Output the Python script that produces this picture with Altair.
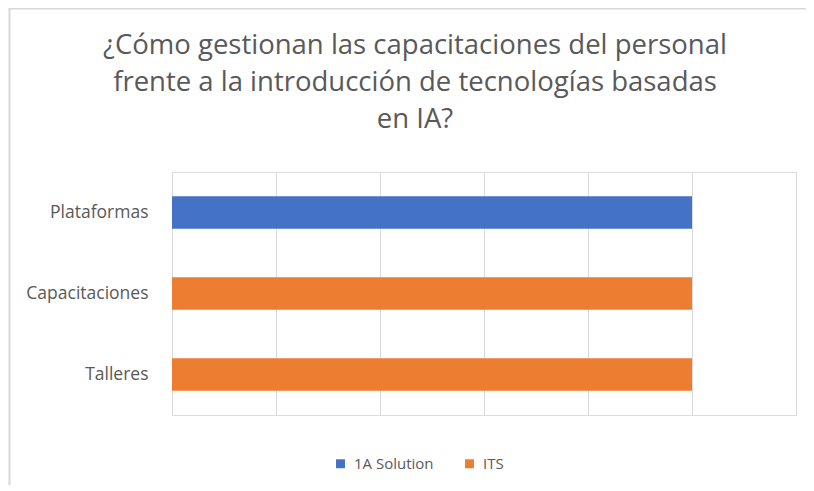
import altair as alt
import pandas as pd

categories = ["Plataformas", "Capacitaciones", "Talleres"]
series = ["1A Solution", "ITS", "ITS"]
values = [1, 1, 1]
series_order = ["1A Solution", "ITS"]
series_colors = ["#4472C4", "#ED7D31"]
title_lines = [
    "¿Cómo gestionan las capacitaciones del personal",
    "frente a la introducción de tecnologías basadas",
    "en IA?",
]

df = pd.DataFrame({"categoria": categories, "serie": series, "valor": values})

FONT = "Open Sans"

bars = (
    alt.Chart(df)
    .mark_bar()
    .encode(
        y=alt.Y(
            "categoria:N",
            sort=categories,
            title=None,
            scale=alt.Scale(paddingInner=0.6, paddingOuter=0.3),
            axis=alt.Axis(
                domain=False,
                ticks=False,
                labelPadding=24,
                labelFontSize=17.5,
                labelColor="#595959",
                labelFont=FONT,
                grid=False,
            ),
        ),
        x=alt.X(
            "valor:Q",
            title=None,
            scale=alt.Scale(domain=[0, 1.2], nice=False),
            axis=alt.Axis(
                values=[0, 0.2, 0.4, 0.6, 0.8, 1.0, 1.2],
                labels=False,
                domain=False,
                ticks=False,
                grid=True,
                gridColor="#d9d9d9",
                gridWidth=1,
            ),
        ),
        color=alt.Color(
            "serie:N",
            scale=alt.Scale(domain=series_order, range=series_colors),
            legend=alt.Legend(
                title=None,
                orient="none",
                direction="horizontal",
                legendX=161,
                legendY=284,
                symbolType="square",
                symbolSize=80,
                labelFontSize=15,
                labelColor="#595959",
                labelFont=FONT,
                columnPadding=28,
                labelOffset=6,
            ),
        ),
    )
)

border_left = alt.Chart(df).mark_rule(color="#d9d9d9", strokeWidth=1.5).encode(
    x=alt.value(-162.5), y=alt.value(-164), y2=alt.value(330)
)
border_top = alt.Chart(df).mark_rule(color="#d9d9d9", strokeWidth=1.5).encode(
    x=alt.value(-163), x2=alt.value(680), y=alt.value(-163.5)
)

chart = (
    alt.layer(bars, border_left, border_top)
    .properties(
        width=624,
        height=243,
        padding={"left": 164, "top": 164, "right": 10, "bottom": 70},
        autosize=alt.AutoSizeParams(type="none"),
        title=alt.TitleParams(
            text=title_lines,
            font=FONT,
            fontSize=27.5,
            fontWeight="normal",
            color="#595959",
            anchor="middle",
            frame="group",
            dx=-69,
            offset=-126,
            lineHeight=37,
        ),
    )
    .configure_view(strokeWidth=0)
    .configure(background="white")
)

chart.save("out.html", embed_options={"renderer": "svg", "actions": False})
